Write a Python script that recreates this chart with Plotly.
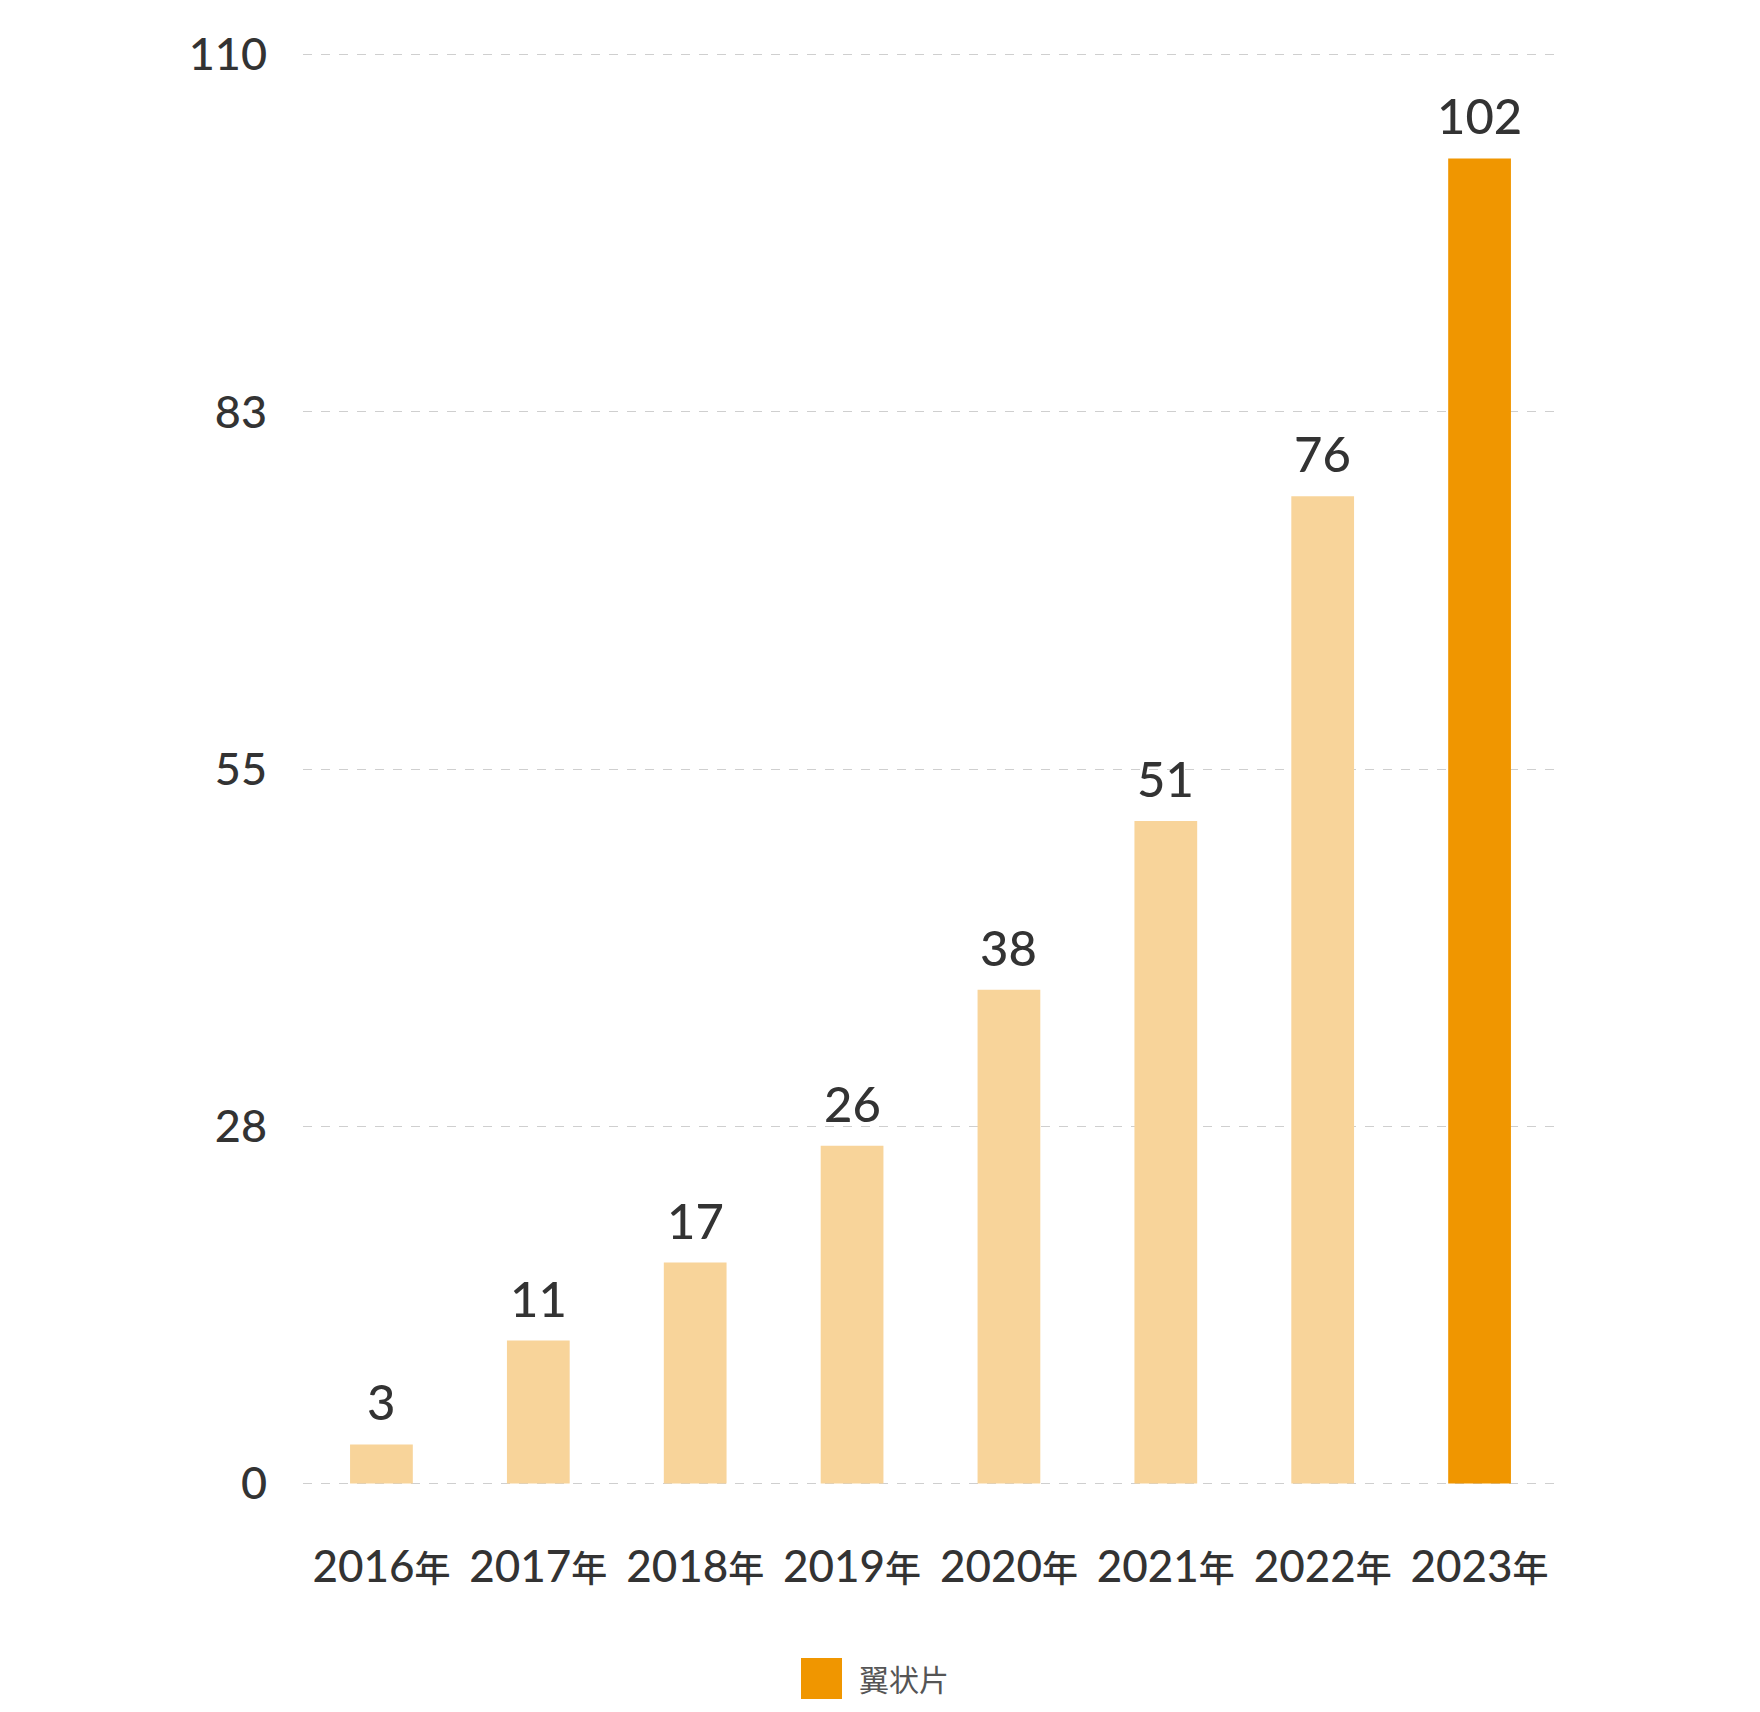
import plotly.graph_objects as go

categories = ["2016年", "2017年", "2018年", "2019年", "2020年", "2021年", "2022年", "2023年"]
values = [3, 11, 17, 26, 38, 51, 76, 102]
series_name = "翼状片"
y_tickvals = [0, 27.5, 55, 82.5, 110]
y_ticktext = ["0", "28", "55", "83", "110"]

LIGHT = "#F8D49A"
ORANGE = "#F09600"
FONT = "Lato, 'Noto Sans CJK SC', sans-serif"

# plot-area geometry (pixels); page body adds an 8px offset
OFF = 8
L, T = 303 - OFF, 53 - OFF
W, H = 1760, 1712
PW, PH = 1255, 1432
R, B = W - L - PW, H - T - PH
YMIN, YMAX = -0.12, 110.12

# x tick labels with a smaller 年
x_ticktext = [c[:-1] + "<span style='font-size:36px'>" + c[-1] + "</span>" for c in categories]

fig = go.Figure()
fig.add_trace(go.Bar(
    x=categories[:-1], y=values[:-1], marker=dict(color=LIGHT, line=dict(width=0)),
    width=0.4, showlegend=False, name=series_name,
))
fig.add_trace(go.Bar(
    x=categories[-1:], y=values[-1:], marker=dict(color=ORANGE, line=dict(width=0)),
    width=0.4, showlegend=False, name=series_name,
))

for c, v in zip(categories, values):
    fig.add_annotation(x=c, y=v, text=str(v), showarrow=False, yanchor="bottom",
                       yshift=12, font=dict(family=FONT, size=49, color="#333333", weight=500))

# legend (square + label), placed in paper coordinates
def px_to_paper_x(px):
    return (px - OFF - L) / PW

def px_to_paper_y(py):
    return (T + PH - (py - OFF)) / PH

fig.add_shape(type="rect", xref="paper", yref="paper",
              x0=px_to_paper_x(801), x1=px_to_paper_x(842),
              y0=px_to_paper_y(1699), y1=px_to_paper_y(1658),
              fillcolor=ORANGE, line=dict(width=0))
fig.add_annotation(xref="paper", yref="paper", x=px_to_paper_x(857), y=px_to_paper_y(1679),
                   xanchor="left", yanchor="middle", text=series_name, showarrow=False,
                   font=dict(family=FONT, size=30, color="#555555"))

fig.update_layout(
    width=W, height=H,
    margin=dict(l=L, r=R, t=T, b=B, autoexpand=False),
    paper_bgcolor="white", plot_bgcolor="white",
    barmode="overlay",
    font=dict(family=FONT, color="#333333"),
    showlegend=False,
    xaxis=dict(categoryorder="array", categoryarray=categories, showgrid=False,
               tickmode="array", tickvals=categories, ticktext=x_ticktext,
               showline=False, ticks="", automargin=False,
               tickfont=dict(size=44, color="#333333", weight=500),
               ticklabelstandoff=52),
    yaxis=dict(range=[YMIN, YMAX], tickvals=y_tickvals, ticktext=y_ticktext,
               showgrid=True, gridcolor="#CFCFCF", griddash="dash", gridwidth=1,
               zeroline=False, showline=False, ticks="", automargin=False,
               tickfont=dict(size=45, color="#333333", weight=500), ticklabelstandoff=35),
)

fig.write_html("out.html")
